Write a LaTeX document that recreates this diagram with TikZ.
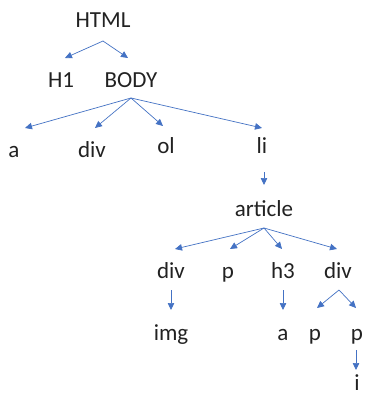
\documentclass[tikz,border=0pt]{standalone}
\usepackage{fontspec}
\setmainfont{Carlito}
\usetikzlibrary{arrows.meta}
\definecolor{arrblue}{HTML}{4472C4}
\definecolor{txtgray}{HTML}{222222}
\begin{document}
\begin{tikzpicture}[x=1pt,y=-1pt,
  lbl/.style={anchor=base, inner sep=0pt, text=txtgray, font=\fontsize{23}{28}\selectfont},
  arr/.style={draw=arrblue, line width=0.7pt, -{Triangle[length=7pt,width=6.5pt]}}]
\useasboundingbox[fill=white] (0,0) rectangle (375,401);
% nodes
\node[lbl] (html) at (103,28) {HTML};
\node[lbl] (h1) at (61,88) {H1};
\node[lbl] (body) at (131,88) {BODY};
\node[lbl] (a1) at (14,157) {a};
\node[lbl] (div1) at (92,157) {div};
\node[lbl] (ol) at (166,153) {ol};
\node[lbl] (li) at (262,153) {li};
\node[lbl] (article) at (264,216) {article};
\node[lbl] (div2) at (171,278) {div};
\node[lbl] (p1) at (228,278) {p};
\node[lbl] (h3) at (283,278) {h3};
\node[lbl] (div3) at (338,278) {div};
\node[lbl] (img) at (171,340) {img};
\node[lbl] (a2) at (283,340) {a};
\node[lbl] (p2) at (315,340) {p};
\node[lbl] (p3) at (357,340) {p};
\node[lbl] (i1) at (357,390) {i};
% connector points
\coordinate (htmlA) at (103,41);
\coordinate (h1T) at (65,58);
\coordinate (bodyT) at (128,58);
\coordinate (bodyA) at (131,98);
\coordinate (a1T) at (25,128);
\coordinate (div1T) at (95,128);
\coordinate (olT) at (163,126);
\coordinate (liT) at (262,128);
\coordinate (liA) at (264,172);
\coordinate (articleT) at (264,185);
\coordinate (articleA) at (264,228);
\coordinate (div2T) at (175,249);
\coordinate (p1T) at (230,249);
\coordinate (h3T) at (282,249);
\coordinate (div3T) at (337,249);
\coordinate (div2A) at (171,290);
\coordinate (imgT) at (171,310);
\coordinate (h3A) at (283,290);
\coordinate (a2T) at (283,310);
\coordinate (div3A) at (339,290);
\coordinate (p2T) at (317,308);
\coordinate (p3T) at (356,308);
\coordinate (p3A) at (356,350);
\coordinate (i1T) at (356,370);
% connectors
\draw[arr] (htmlA) -- (h1T);
\draw[arr] (htmlA) -- (bodyT);
\draw[arr] (bodyA) -- (a1T);
\draw[arr] (bodyA) -- (div1T);
\draw[arr] (bodyA) -- (olT);
\draw[arr] (bodyA) -- (liT);
\draw[arr] (liA) -- (articleT);
\draw[arr] (articleA) -- (div2T);
\draw[arr] (articleA) -- (p1T);
\draw[arr] (articleA) -- (h3T);
\draw[arr] (articleA) -- (div3T);
\draw[arr] (div2A) -- (imgT);
\draw[arr] (h3A) -- (a2T);
\draw[arr] (div3A) -- (p2T);
\draw[arr] (div3A) -- (p3T);
\draw[arr] (p3A) -- (i1T);
\end{tikzpicture}
\end{document}
